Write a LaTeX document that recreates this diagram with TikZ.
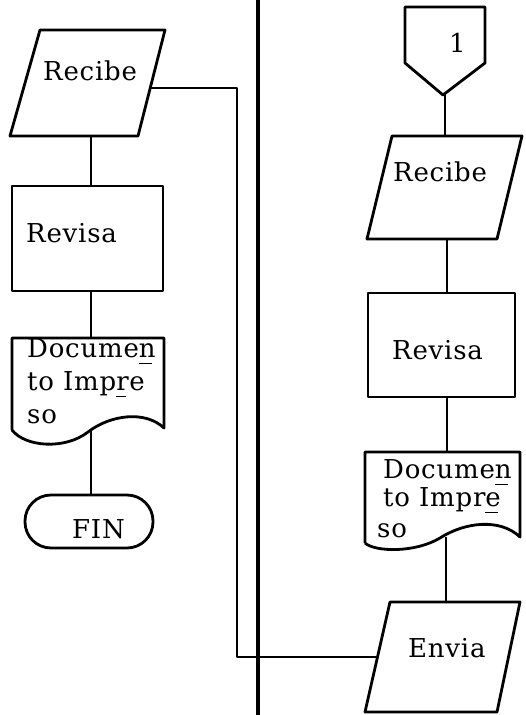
\documentclass[tikz,border=0pt]{standalone}
\usepackage{fontspec}
\usetikzlibrary{calc}

% label font: wide serif with a large x-height, slightly spaced
\newfontfamily\lblfam{DejaVu Serif}[LetterSpace=3]
\newcommand\lblfont{\lblfam\fontsize{26}{33}\selectfont}
% a short bar set under one letter (word-division mark)
\newcommand\undermark[1]{\setbox0\hbox{#1}\rlap{\rule[-7pt]{0.8\wd0}{1.4pt}}#1}

\tikzset{
  box/.style={line width=2.8pt, line join=round},
  link/.style={line width=2pt},
  thinlink/.style={line width=1.6pt},
  divider/.style={line width=3.8pt},
  lbl/.style={inner sep=0pt, anchor=base west, font=\lblfont},
}

\begin{document}
\begin{tikzpicture}[x=1pt, y=-1pt]
\useasboundingbox (0,0) rectangle (526,715);

% ---- swimlane divider
\coordinate (divT) at (258,0);
\coordinate (divB) at (258,715);
\draw[divider] (divT) -- (divB);

% ================= left lane =================
% input/output: Recibe
\draw[box] (40,30) -- (165,30) -- (138,136) -- (10,136) -- cycle;
\node[lbl] (recL) at (43,80) {Recibe};
\coordinate (recLbot) at (91,136);
\coordinate (recLout) at (150,88);

% process: Revisa
\draw[box] (12,186) rectangle (163,291);
\node[lbl] (revL) at (26,242) {Revisa};
\coordinate (revLtop) at (91,186);
\coordinate (revLbot) at (91,291);

% document: Documento Impreso
\draw[box] (12,430) -- (12,338) -- (164,338) -- (164,428)
  .. controls (145,410) and (110,415) .. (88,432)
  .. controls (65,450) and (25,447) .. (12,430);
\node[lbl] (docL1) at (27,357) {Docume\undermark{n}};
\node[lbl] (docL2) at (27,390) {to Imp\undermark{r}e};
\node[lbl] (docL3) at (27,423) {so};
\coordinate (docLtop) at (91,338);
\coordinate (docLbot) at (91,431);

% terminal: FIN
\node[box, draw, rounded corners=26pt, minimum width=128pt, minimum height=53pt,
      inner sep=0pt] (fin) at (89,521.5) {};
\node[lbl] (finT) at (72,538) {FIN};

% left lane flow
\draw[link] (recLbot) -- (revLtop);
\draw[link] (revLbot) -- (docLtop);
\draw[link] (docLbot) -- (fin.north -| docLbot);

% ================= right lane =================
% off-page connector 1
\draw[box] (405,7) -- (485,7) -- (485,63) -- (443,95) -- (405,63) -- cycle;
\node[lbl] (one) at (449,52) {1};
\coordinate (oneBot) at (445,94);

% input/output: Recibe
\draw[box] (392,136) -- (522,136) -- (497,239) -- (367,239) -- cycle;
\node[lbl] (recR) at (393,181) {Recibe};
\coordinate (recRtop) at (445,136);
\coordinate (recRbot) at (447,239);

% process: Revisa
\draw[box] (368,293) rectangle (515,397);
\node[lbl] (revR) at (392,359) {Revisa};
\coordinate (revRtop) at (447,293);
\coordinate (revRbot) at (447,397);

% document: Documento Impreso
\draw[box] (365,543) -- (365,452) -- (520,452) -- (520,537)
  .. controls (500,518) and (465,522) .. (440,538)
  .. controls (415,553) and (375,552) .. (365,543);
\node[lbl] (docR1) at (383,478) {Docume\undermark{n}};
\node[lbl] (docR2) at (383,506) {to Impr\undermark{e}};
\node[lbl] (docR3) at (377,537) {so};
\coordinate (docRtop) at (447,452);
\coordinate (docRbot) at (446,537);

% input/output: Envia
\draw[box] (390,602) -- (520,602) -- (497,712) -- (365,712) -- cycle;
\node[lbl] (envia) at (408,657) {Envia};
\coordinate (enviaTop) at (446,602);
\coordinate (enviaIn) at (377.5,657);

% right lane flow
\draw[link] (oneBot) -- (recRtop);
\draw[link] (recRbot) -- (revRtop);
\draw[link] (revRbot) -- (docRtop);
\draw[link] (docRbot) -- (enviaTop);

% ---- cross-lane link: Recibe (left) to Envia (right)
\coordinate (bendA) at (237,88);
\coordinate (bendB) at (237,657);
\draw[thinlink, line join=round] (recLout) -- (bendA) -- (bendB) -- (enviaIn);
\end{tikzpicture}
\end{document}
